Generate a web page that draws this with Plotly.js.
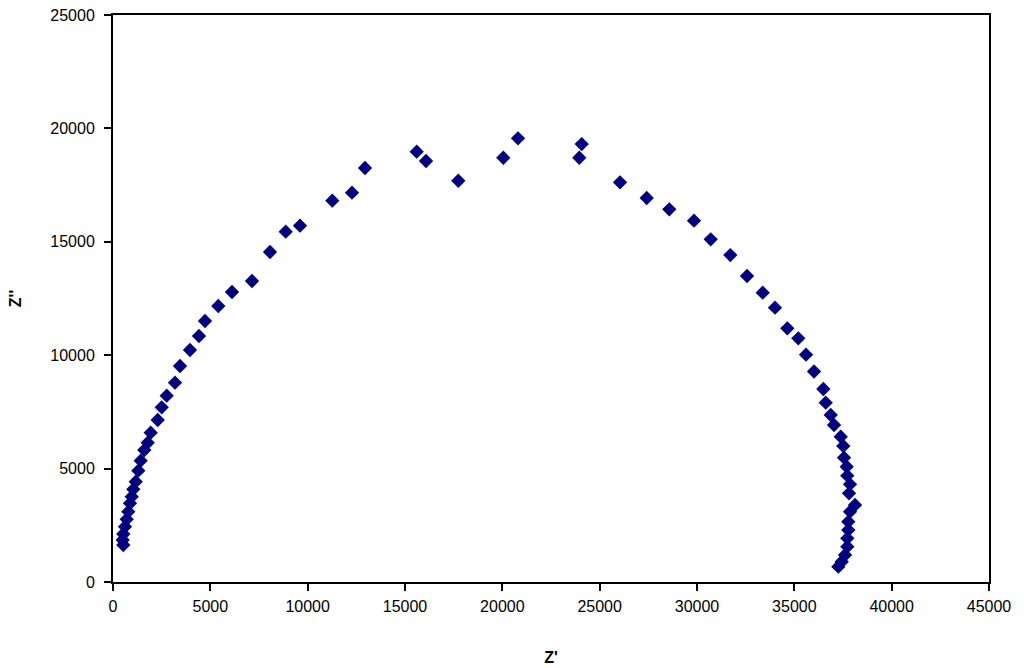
<!DOCTYPE html>
<html>
<head>
<meta charset="utf-8">
<script src="https://cdn.plot.ly/plotly-3.0.1.min.js"></script>
<style>
  html, body { margin: 0; padding: 0; background: #fff; }
  #chart { width: 1024px; height: 668px; }
</style>
</head>
<body>
<div id="chart"></div>
<script>
const zReal = [
  529, 498, 529, 616, 704, 786, 873, 961, 1043, 1166,
  1300, 1423, 1608, 1783, 1937, 2296, 2502, 2759, 3185, 3442,
  3955, 4418, 4726, 5409, 6113, 7140, 8065, 8872, 9606, 11265,
  12277, 12945, 15601, 16079, 17738, 20050, 20805, 23954, 24077, 26045,
  27416, 28577, 29846, 30704, 31711, 32569, 33375, 34007, 34639, 35204,
  35600, 36011, 36489, 36612, 36869, 37038, 37382, 37516, 37552, 37690,
  37721, 37860, 37808, 38117, 37860, 37772, 37772, 37721, 37721, 37603,
  37433, 37259
];
const zImag = [
  1631, 1852, 2116, 2439, 2764, 3100, 3470, 3761, 4087, 4422,
  4907, 5348, 5820, 6142, 6583, 7143, 7703, 8214, 8787, 9524,
  10229, 10846, 11508, 12169, 12786, 13271, 14550, 15445, 15710, 16812,
  17164, 18253, 18972, 18562, 17692, 18707, 19563, 18707, 19311, 17623,
  16931, 16433, 15930, 15110, 14415, 13492, 12755, 12094, 11186, 10745,
  10022, 9281, 8509, 7905, 7363, 6922, 6406, 5996, 5480, 5084,
  4687, 4307, 3911, 3395, 3100, 2659, 2293, 1927, 1556, 1190,
  895, 675
];

const font = 'Liberation Sans, Arial, sans-serif';

const trace = {
  x: zReal,
  y: zImag,
  type: 'scatter',
  mode: 'markers',
  marker: { symbol: 'diamond', size: 11, color: '#000080' },
  hoverinfo: 'x+y'
};

const axisBase = {
  showgrid: false,
  zeroline: false,
  showline: true,
  linecolor: '#000',
  linewidth: 2,
  mirror: true,
  ticks: 'outside',
  ticklen: 7,
  tickwidth: 2,
  tickcolor: '#000',
  tickfont: { family: font, size: 16, color: '#000' },
  automargin: false
};

const layout = {
  width: 1024,
  height: 668,
  margin: { l: 113, r: 35, t: 15, b: 86 },
  paper_bgcolor: '#fff',
  plot_bgcolor: '#fff',
  showlegend: false,
  xaxis: Object.assign({}, axisBase, {
    range: [0, 45000],
    dtick: 5000,
    tickformat: 'd',
    ticklabelstandoff: 2,
    title: { text: "<b>Z'</b>", font: { family: font, size: 16, color: '#000' }, standoff: 38 }
  }),
  yaxis: Object.assign({}, axisBase, {
    range: [0, 25000],
    dtick: 5000,
    tickformat: 'd',
    ticklabelstandoff: 6,
    title: { text: "<b>Z''</b>", font: { family: font, size: 16, color: '#000' }, standoff: 25 }
  })
};

Plotly.newPlot('chart', [trace], layout, { displayModeBar: false, staticPlot: true });
</script>
</body>
</html>
